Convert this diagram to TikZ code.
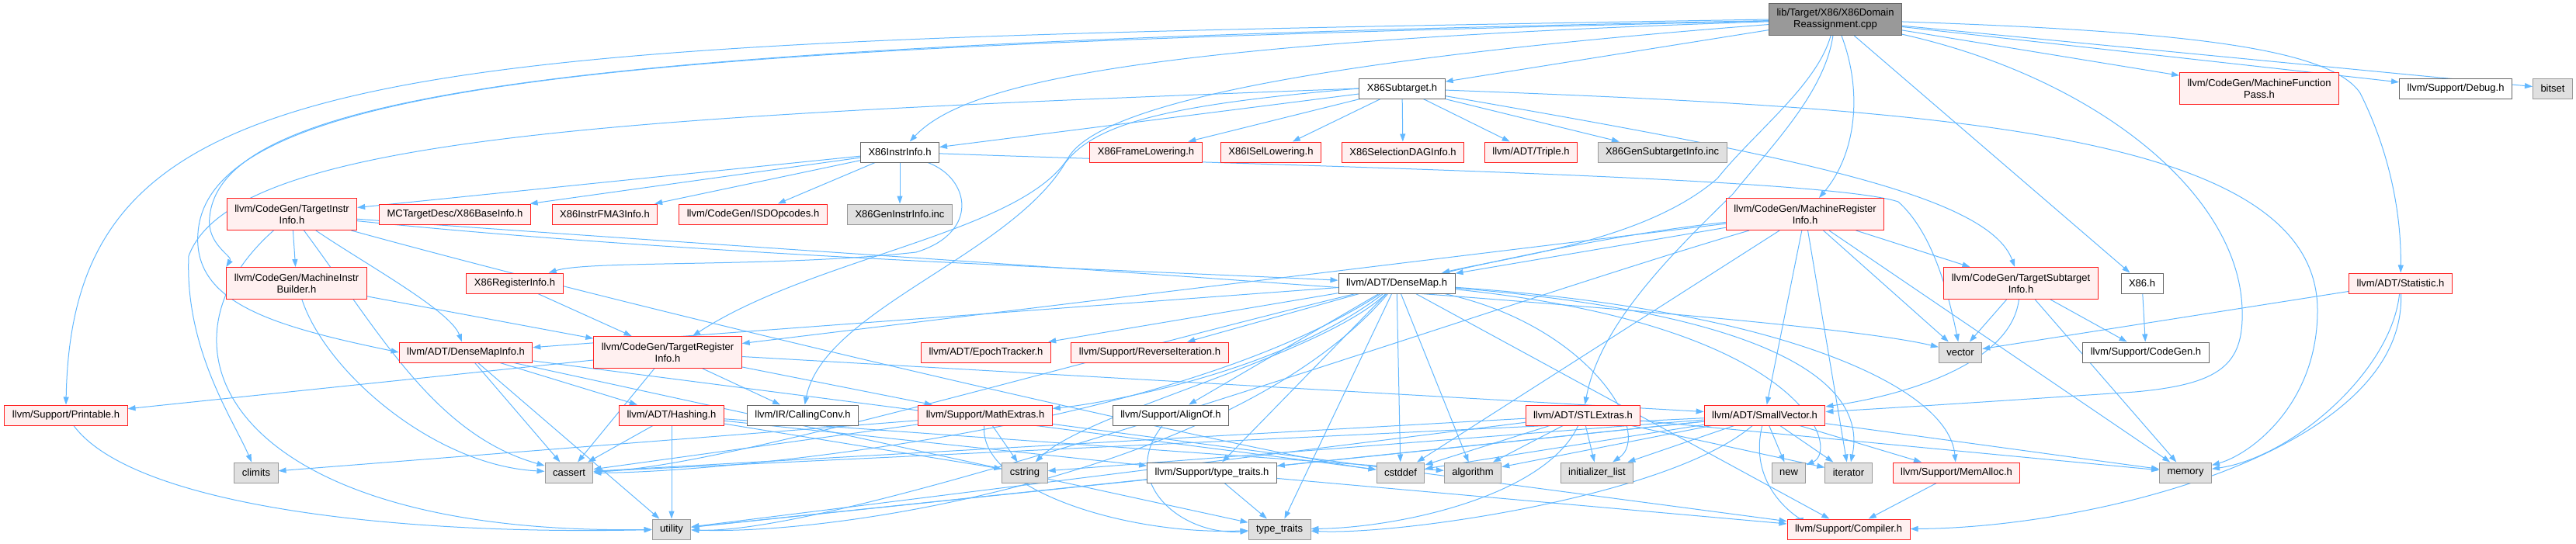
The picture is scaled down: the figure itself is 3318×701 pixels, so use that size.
\documentclass[tikz,border=0pt]{standalone}
\usepackage{fontspec}
\setmainfont{Liberation Sans}
\usetikzlibrary{arrows.meta,backgrounds}
\definecolor{incblue}{HTML}{63B8FF}
\definecolor{incred}{HTML}{FF2020}
\definecolor{redfill}{HTML}{FFF0F0}
\definecolor{grayfill}{HTML}{E0E0E0}
\definecolor{grayline}{HTML}{999999}
\definecolor{darkline}{HTML}{666666}

\begin{document}
\begin{tikzpicture}[x=1pt,y=-1pt,
  hdr/.style={draw,line width=1pt,minimum height=26pt,inner xsep=10pt,inner ysep=2pt,
    align=center,font=\fontsize{13}{15}\selectfont},
  two/.style={minimum height=41pt},
  redhdr/.style={hdr,draw=incred,fill=redfill},
  whitehdr/.style={hdr,draw=darkline,fill=white},
  grayhdr/.style={hdr,draw=grayline,fill=grayfill},
  roothdr/.style={hdr,two,draw=darkline,fill=grayline},
  incl/.style={draw=incblue,line width=1pt,-{Triangle[length=10pt,width=7pt]}}]
  \useasboundingbox (0,0) rectangle (3318,701);

  \node[roothdr] (root) at (2364,25) {lib/Target/X86/X86Domain\\Reassignment.cpp};

  \node[whitehdr] (subtgt) at (1806,114) {X86Subtarget.h};
  \node[redhdr,two] (mfp) at (2910,114) {llvm/CodeGen/MachineFunction\\Pass.h};
  \node[whitehdr] (debug) at (3163,114) {llvm/Support/Debug.h};
  \node[grayhdr] (bitset) at (3288,114) {bitset};

  \node[whitehdr] (instrinfo) at (1159,196) {X86InstrInfo.h};
  \node[redhdr] (framelow) at (1476,196) {X86FrameLowering.h};
  \node[redhdr] (isellow) at (1637,196) {X86ISelLowering.h};
  \node[redhdr] (seldag) at (1807,196) {X86SelectionDAGInfo.h};
  \node[redhdr] (triple) at (1972,196) {llvm/ADT/Triple.h};
  \node[grayhdr] (gensubtgt) at (2141,196) {X86GenSubtargetInfo.inc};

  \node[redhdr,two] (tgtinstr) at (376,276) {llvm/CodeGen/TargetInstr\\Info.h};
  \node[redhdr] (baseinfo) at (586,276) {MCTargetDesc/X86BaseInfo.h};
  \node[redhdr] (fma) at (779,276) {X86InstrFMA3Info.h};
  \node[redhdr] (isdops) at (970,276) {llvm/CodeGen/ISDOpcodes.h};
  \node[grayhdr] (geninstr) at (1159,276) {X86GenInstrInfo.inc};
  \node[redhdr,two] (mri) at (2325,276) {llvm/CodeGen/MachineRegister\\Info.h};

  \node[redhdr,two] (mib) at (382,365) {llvm/CodeGen/MachineInstr\\Builder.h};
  \node[redhdr] (reginfo) at (663,365) {X86RegisterInfo.h};
  \node[whitehdr] (densemap) at (1799,365) {llvm/ADT/DenseMap.h};
  \node[redhdr,two] (tsi) at (2603,365) {llvm/CodeGen/TargetSubtarget\\Info.h};
  \node[whitehdr] (xeightsix) at (2759,365) {X86.h};
  \node[redhdr] (statistic) at (3092,365) {llvm/ADT/Statistic.h};

  \node[redhdr] (dmapinfo) at (600,454) {llvm/ADT/DenseMapInfo.h};
  \node[redhdr,two] (tri) at (860,454) {llvm/CodeGen/TargetRegister\\Info.h};
  \node[redhdr] (epoch) at (1270,454) {llvm/ADT/EpochTracker.h};
  \node[redhdr] (reviter) at (1481,454) {llvm/Support/ReverseIteration.h};
  \node[grayhdr] (vector) at (2525,454) {vector};
  \node[whitehdr] (codegen) at (2764,454) {llvm/Support/CodeGen.h};

  \node[redhdr] (printable) at (85,535) {llvm/Support/Printable.h};
  \node[redhdr] (hashing) at (865,535) {llvm/ADT/Hashing.h};
  \node[whitehdr] (callconv) at (1034,535) {llvm/IR/CallingConv.h};
  \node[redhdr] (mathext) at (1269,535) {llvm/Support/MathExtras.h};
  \node[whitehdr] (alignof) at (1508,535) {llvm/Support/AlignOf.h};
  \node[redhdr] (stlext) at (2039,535) {llvm/ADT/STLExtras.h};
  \node[redhdr] (smallvec) at (2273,535) {llvm/ADT/SmallVector.h};

  \node[grayhdr] (climits) at (330,609) {climits};
  \node[grayhdr] (cassert) at (733,609) {cassert};
  \node[grayhdr] (cstring) at (1320,609) {cstring};
  \node[whitehdr] (typetraitsh) at (1561,609) {llvm/Support/type\_traits.h};
  \node[grayhdr] (cstddef) at (1804,609) {cstddef};
  \node[grayhdr] (algorithm) at (1897,609) {algorithm};
  \node[grayhdr] (initlist) at (2057,609) {initializer\_list};
  \node[grayhdr] (new) at (2304,609) {new};
  \node[grayhdr] (iterator) at (2381,609) {iterator};
  \node[redhdr] (memalloc) at (2520,609) {llvm/Support/MemAlloc.h};
  \node[grayhdr] (memory) at (2815,609) {memory};

  \node[grayhdr] (utility) at (865,682) {utility};
  \node[grayhdr] (typetraits) at (1648,682) {type\_traits};
  \node[redhdr] (compiler) at (2381,682) {llvm/Support/Compiler.h};

  \begin{pgfonlayer}{background}
    \foreach \src/\dst in {root/subtgt,root/xeightsix,root/mfp,root/debug,root/bitset,
        subtgt/instrinfo,subtgt/framelow,subtgt/isellow,subtgt/seldag,subtgt/triple,subtgt/gensubtgt,
        instrinfo/tgtinstr,instrinfo/baseinfo,instrinfo/fma,instrinfo/isdops,instrinfo/geninstr,
        tgtinstr/mib,mib/tri,reginfo/tri,
        mri/densemap,mri/smallvec,mri/tri,mri/tsi,mri/cstddef,mri/iterator,mri/memory,mri/vector,
        tri/printable,tri/cassert,tri/callconv,tri/mathext,tri/smallvec,
        densemap/dmapinfo,densemap/epoch,densemap/reviter,densemap/alignof,densemap/compiler,
        densemap/typetraitsh,densemap/algorithm,densemap/cstddef,densemap/typetraits,
        dmapinfo/hashing,dmapinfo/cassert,dmapinfo/cstddef,dmapinfo/typetraits,dmapinfo/utility,
        hashing/typetraitsh,hashing/algorithm,hashing/cassert,hashing/cstring,hashing/utility,
        mathext/compiler,mathext/cassert,mathext/climits,mathext/cstring,
        typetraitsh/typetraits,typetraitsh/utility,typetraitsh/compiler,
        stlext/algorithm,stlext/cassert,stlext/cstddef,stlext/initlist,stlext/iterator,
        stlext/memory,stlext/utility,
        smallvec/typetraitsh,smallvec/algorithm,smallvec/cassert,smallvec/cstddef,smallvec/cstring,
        smallvec/initlist,smallvec/iterator,smallvec/memory,smallvec/new,smallvec/utility,
        smallvec/memalloc,memalloc/compiler,
        tsi/codegen,tsi/memory,tsi/vector,xeightsix/codegen,statistic/vector}
      \draw[incl] (\src) -- (\dst);

    \draw[incl] (root.west) .. controls (500,55) and (94,60) .. (printable.north);
    \draw[incl] (root) .. controls (800,55) and (285,110) .. (270,280)
      .. controls (266,315) and (300,330) .. (mib.north west);
    \draw[incl] (root) .. controls (900,60) and (270,90) .. (255,300)
      .. controls (248,390) and (350,420) .. (dmapinfo.west);
    \draw[incl] (root) .. controls (1450,55) and (1240,110) .. (instrinfo);
    \draw[incl] (root) .. controls (1650,80) and (1420,140) .. (1378,200)
      .. controls (1320,300) and (1050,330) .. (tri);
    \draw[incl] (root) .. controls (2400,120) and (2390,200) .. (mri);
    \draw[incl] (root) .. controls (2340,110) and (2260,170) .. (2212,230)
      .. controls (2120,310) and (1950,330) .. (densemap);
    \draw[incl] (root) .. controls (2350,120) and (2280,190) .. (2232,250)
      .. controls (2150,330) and (2060,420) .. (stlext);
    \draw[incl] (root) .. controls (2700,100) and (2885,250) .. (2888,400)
      .. controls (2890,470) and (2860,495) .. (2750,505)
      .. controls (2600,515) and (2450,525) .. (smallvec);
    \draw[incl] (root) .. controls (2800,40) and (3000,60) .. (3040,120)
      .. controls (3080,200) and (3093,280) .. (statistic);

    \draw[incl] (subtgt) .. controls (2300,200) and (2560,250) .. (tsi);
    \draw[incl] (subtgt) .. controls (2500,140) and (2985,170) .. (2985,400)
      .. controls (2985,520) and (2900,585) .. (memory);
    \draw[incl] (subtgt.west) .. controls (800,150) and (300,175) .. (243,330)
      .. controls (238,450) and (300,540) .. (climits);
    \draw[incl] (subtgt.west) .. controls (1500,135) and (1410,160) .. (1372,210)
      .. controls (1300,330) and (1060,400) .. (callconv);

    \draw[incl] (instrinfo) .. controls (1250,230) and (1262,300) .. (1180,325)
      .. controls (1000,345) and (760,335) .. (reginfo);
    \draw[incl] (instrinfo) .. controls (1600,212) and (2350,228) .. (2445,260)
      .. controls (2490,300) and (2510,380) .. (vector);

    \draw[incl] (tgtinstr) .. controls (900,330) and (1500,350) .. (densemap);
    \draw[incl] (tgtinstr) .. controls (470,340) and (580,400) .. (dmapinfo);
    \draw[incl] (tgtinstr) .. controls (490,430) and (560,560) .. (cassert);
    \draw[incl] (tgtinstr) .. controls (900,420) and (1650,590) .. (cstddef);
    \draw[incl] (tgtinstr) .. controls (180,450) and (300,690) .. (utility);
    \draw[incl] (tgtinstr) .. controls (1100,330) and (2300,400) .. (vector);
    \draw[incl] (mib) .. controls (420,480) and (560,600) .. (cassert);

    \draw[incl] (mri) .. controls (1800,330) and (1000,600) .. (cassert);
    \draw[incl] (mri) .. controls (1900,400) and (1100,690) .. (utility);

    \draw[incl] (densemap) .. controls (1650,480) and (1420,520) .. (mathext);
    \draw[incl] (densemap) .. controls (2300,400) and (2510,500) .. (memalloc);
    \draw[incl] (densemap) .. controls (1500,560) and (900,610) .. (cassert);
    \draw[incl] (densemap) .. controls (1700,460) and (1400,530) .. (cstring);
    \draw[incl] (densemap) .. controls (2050,420) and (2130,560) .. (initlist);
    \draw[incl] (densemap) .. controls (2350,410) and (2400,520) .. (iterator);
    \draw[incl] (densemap) .. controls (2330,420) and (2370,580) .. (new);
    \draw[incl] (densemap) .. controls (1600,600) and (1100,690) .. (utility);

    \draw[incl] (mathext) .. controls (1260,630) and (1450,690) .. (typetraits);
    \draw[incl] (alignof) .. controls (1440,620) and (1520,690) .. (typetraits);
    \draw[incl] (stlext) .. controls (1990,640) and (1800,680) .. (typetraits);
    \draw[incl] (smallvec) .. controls (2250,630) and (2320,670) .. (compiler);
    \draw[incl] (smallvec) .. controls (2150,640) and (1800,690) .. (typetraits);
    \draw[incl] (printable) .. controls (170,650) and (500,690) .. (utility);
    \draw[incl] (tsi) .. controls (2590,470) and (2450,510) .. (smallvec);
    \draw[incl] (statistic) .. controls (3080,480) and (2950,590) .. (memory);
    \draw[incl] (statistic) .. controls (3100,580) and (2700,680) .. (compiler);
  \end{pgfonlayer}
\end{tikzpicture}
\end{document}
